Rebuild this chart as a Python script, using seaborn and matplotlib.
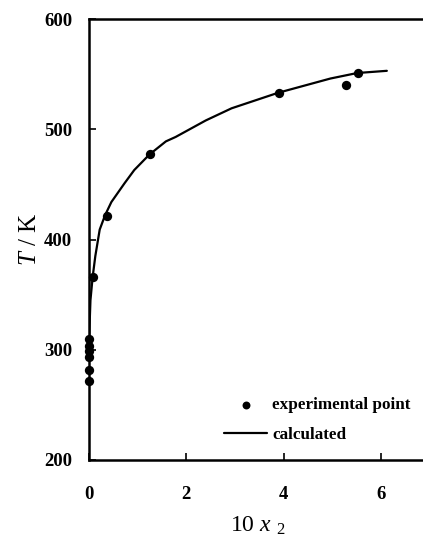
import matplotlib
matplotlib.use("Agg")
import matplotlib.pyplot as plt
import seaborn as sns
import pandas as pd

# experimental points (10 x2, T/K)
exp_x = [0.004, 0.004, 0.004, 0.004, 0.004, 0.004, 0.075, 0.38, 1.26, 3.9, 5.29, 5.52]
exp_T = [310, 303, 299, 293, 282, 272, 366, 421.5, 477.5, 533, 540, 551]

# calculated curve
calc_x = [0.0, 0.01, 0.03, 0.075, 0.13, 0.22, 0.33, 0.46, 0.73, 0.93, 1.24, 1.58, 1.78,
          2.4, 2.93, 3.88, 4.96, 5.51, 6.12]
calc_T = [300, 320, 345, 366, 385, 409, 422, 434, 451, 463, 477, 489, 493,
          508, 519, 533, 546, 551, 553]

xticks = [0, 2, 4, 6]
yticks = [200, 300, 400, 500, 600]

sns.set_theme(style="ticks")
plt.rcParams['font.family'] = ['Liberation Serif', 'DejaVu Serif']
plt.rcParams['mathtext.fontset'] = 'custom'
plt.rcParams['mathtext.rm'] = 'Liberation Serif'
plt.rcParams['mathtext.it'] = 'Liberation Serif:italic'
plt.rcParams['text.color'] = 'black'
plt.rcParams['axes.labelcolor'] = 'black'
plt.rcParams['xtick.color'] = 'black'
plt.rcParams['ytick.color'] = 'black'

df_exp = pd.DataFrame({"x": exp_x, "T": exp_T})
df_calc = pd.DataFrame({"x": calc_x, "T": calc_T})

fig = plt.figure(figsize=(4.23, 5.36), dpi=100)
ax = fig.add_axes([89/423, 1 - 460/536, 1 - 89/423 + 0.01, (460 - 19)/536])

sns.lineplot(data=df_calc, x="x", y="T", ax=ax, color="black", lw=1.6,
             estimator=None, sort=False, label="calculated")
sns.scatterplot(data=df_exp, x="x", y="T", ax=ax, color="black", s=45,
                edgecolor="black", linewidth=0, label="experimental point",
                zorder=3, clip_on=False)

ax.set_xlim(0, 6.95)
ax.set_ylim(200, 600)
ax.set_xticks(xticks)
ax.set_yticks(yticks)
ax.set_xticklabels([str(t) for t in xticks], fontweight="bold", fontsize=13.5)
ax.set_yticklabels([str(t) for t in yticks], fontweight="bold", fontsize=13.5)
ax.tick_params(axis="both", direction="in", length=5, width=1.2, color="black")
ax.tick_params(axis="y", pad=12)
ax.tick_params(axis="x", pad=19)
for side in ["left", "bottom", "top"]:
    ax.spines[side].set_visible(True)
    ax.spines[side].set_linewidth(1.8)
    ax.spines[side].set_color("black")
ax.spines["right"].set_visible(False)

ax.set_xlabel(r"10 $x$ $_{2}$", fontsize=17, labelpad=8)
ax.set_ylabel(r"$T$ / K", fontsize=18, labelpad=2)

handles, labels = ax.get_legend_handles_labels()
order = [labels.index("experimental point"), labels.index("calculated")]
leg = ax.legend([handles[i] for i in order], [labels[i] for i in order],
                loc="lower left", bbox_to_anchor=(0.355, 0.004), frameon=False,
                prop={"weight": "bold", "size": 12.3}, handlelength=2.5,
                handletextpad=0.3, labelspacing=0.8, markerscale=0.85)

fig.savefig("out.png", dpi=100)
